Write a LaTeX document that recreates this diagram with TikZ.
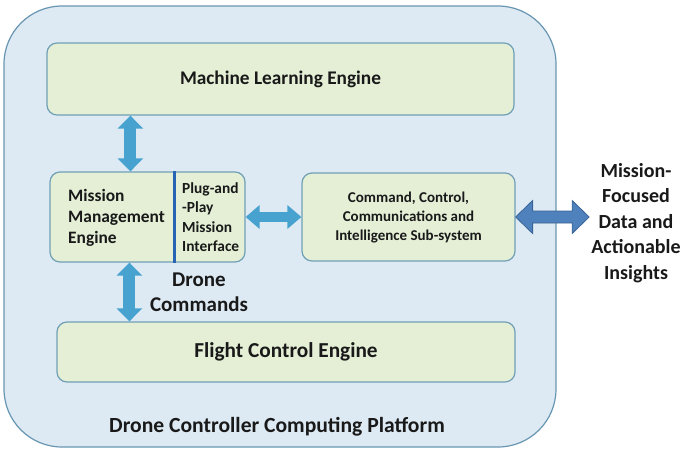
\documentclass[tikz,border=0pt]{standalone}
\usepackage{fontspec}
\setmainfont{Carlito}
\usetikzlibrary{arrows.meta,calc}
\definecolor{outerfill}{RGB}{221,234,243}
\definecolor{outerline}{RGB}{104,150,178}
\definecolor{boxfill}{RGB}{228,239,214}
\definecolor{boxline}{RGB}{112,160,182}
\definecolor{arrowblue}{RGB}{72,162,207}
\definecolor{bigfill}{RGB}{79,129,189}
\definecolor{bigline}{RGB}{58,100,150}
\definecolor{divblue}{RGB}{40,100,180}
\definecolor{txt}{RGB}{25,25,25}
\tikzset{
  outerbox/.style={draw=outerline, fill=outerfill, line width=1.2pt, rounded corners=58pt, inner sep=0pt},
  enginebox/.style={draw=boxline, fill=boxfill, line width=1.2pt, rounded corners=10pt, inner sep=0pt, text=txt},
  lbl/.style={text=txt, inner sep=0pt},
  dblarr/.style={line width=12pt, draw=arrowblue, {Triangle[length=13pt,width=25pt]}-{Triangle[length=13pt,width=25pt]}},
  hdblarr/.style={line width=10pt, draw=arrowblue, {Triangle[length=14pt,width=23pt]}-{Triangle[length=14pt,width=23pt]}},
  bigarr/.style={draw=bigline, fill=bigfill, line width=0.8pt, line join=miter},
  divider/.style={draw=divblue, line width=2.2pt}
}
\begin{document}
\begin{tikzpicture}[x=1pt,y=-1pt,font=\bfseries]
\useasboundingbox (0,0) rectangle (684,455);
% outer platform
\node[outerbox, minimum width=552pt, minimum height=441pt] (outer) at (280,226.5) {};
\node[lbl, font=\fontsize{21.6}{25}\bfseries\selectfont] (platform) at (277,427) {Drone Controller Computing Platform};
% engines
\node[enginebox, minimum width=467pt, minimum height=72pt, font=\fontsize{19.3}{23}\bfseries\selectfont] (ml) at (280.5,79) {Machine Learning Engine};
\node[enginebox, minimum width=195pt, minimum height=90pt] (mme) at (147.5,217) {};
\node[enginebox, minimum width=213pt, minimum height=88pt] (c3i) at (408.5,217) {};
\node[enginebox, minimum width=458pt, minimum height=60pt, font=\fontsize{21.3}{25}\bfseries\selectfont] (fce) at (286,352) {Flight Control Engine};
% divider in mission box
\draw[divider] ([xshift=125pt]mme.north west) -- ([xshift=125pt]mme.south west);
% texts
\node[lbl, anchor=west, align=left, font=\fontsize{17.4}{21}\bfseries\selectfont] (mmetext) at (68,218) {Mission\\Management\\Engine};
\node[lbl, anchor=west, align=left, font=\fontsize{15.4}{19.3}\bfseries\selectfont] (plug) at (182,217) {Plug-and\\-Play\\Mission\\Interface};
\node[lbl, align=center, font=\fontsize{15}{19}\bfseries\selectfont] (c3itext) at ([yshift=-1pt]c3i.center) {Command, Control,\\Communications and\\Intelligence Sub-system};
\node[lbl, align=center, font=\fontsize{21}{25}\bfseries\selectfont] (drone) at (199,292) {Drone\\Commands};
\node[lbl, align=center, font=\fontsize{20}{25.5}\bfseries\selectfont] (insights) at (636,223) {Mission-\\Focused\\Data and\\Actionable\\Insights};
% arrows
\draw[dblarr] ([xshift=84pt]ml.south west) -- ([xshift=81pt]mme.north west);
\draw[hdblarr] (mme.east) -- (c3i.west);
\draw[dblarr] ([xshift=80pt]mme.south west) -- ([xshift=73pt]fce.north west);
\coordinate (bigend) at ([xshift=-2pt]insights.west);
\draw[bigarr] let \p1=(c3i.east), \p2=(bigend) in
  (\x1,\y1) -- (\x1+17pt,\y1+16.5pt) -- (\x1+17pt,\y1+6pt) -- (\x2-17pt,\y1+6pt) -- (\x2-17pt,\y1+16.5pt)
  -- (\x2,\y1) -- (\x2-17pt,\y1-16.5pt) -- (\x2-17pt,\y1-6pt) -- (\x1+17pt,\y1-6pt) -- (\x1+17pt,\y1-16.5pt) -- cycle;
\end{tikzpicture}
\end{document}
